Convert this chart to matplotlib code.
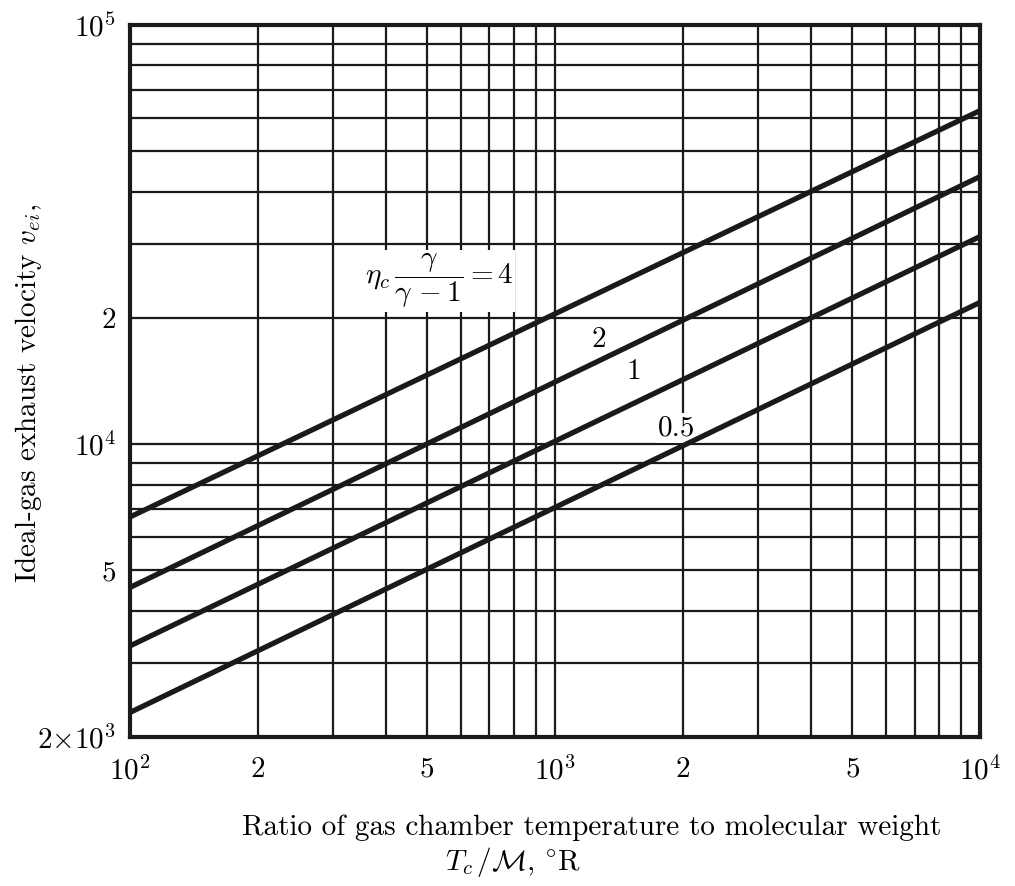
import matplotlib
matplotlib.use("Agg")
import matplotlib.pyplot as plt

plt.rcParams["font.family"] = ["cmr10", "DejaVu Serif"]
plt.rcParams["mathtext.fontset"] = "cm"
plt.rcParams["axes.formatter.use_mathtext"] = True

# T_c / M range (deg R) and ideal-gas exhaust velocity (ft/s) at each end
x_ends = [1e2, 1e4]
curves = {
    "4": [6700, 62500],
    "2": [4550, 43500],
    "1": [3300, 31300],
    "0.5": [2290, 21800],
}

# grid lines on the log paper
x_grid = [100, 200, 300, 400, 500, 600, 700, 800, 900,
          1000, 2000, 3000, 4000, 5000, 6000, 7000, 8000, 9000, 10000]
x_labels = {100: r"$10^2$", 200: "2", 500: "5", 1000: r"$10^3$",
            2000: "2", 5000: "5", 10000: r"$10^4$"}
y_grid = [2000, 3000, 4000, 5000, 6000, 7000, 8000, 9000,
          10000, 20000, 30000, 40000, 50000, 60000, 70000, 80000, 90000, 100000]
y_labels = {2000: r"$2{\times}10^3$", 5000: "5", 10000: r"$10^4$",
            20000: "2", 100000: r"$10^5$"}

FS = 21

fig = plt.figure(figsize=(10.15, 8.86), dpi=100)
ax = fig.add_axes([0.128, 0.168, 0.838, 0.804])
ax.set_xscale("log")
ax.set_yscale("log")
ax.set_xlim(1e2, 1e4)
ax.set_ylim(2e3, 1e5)

ax.set_xticks(x_grid)
ax.set_xticklabels([x_labels.get(v, "") for v in x_grid])
ax.set_yticks(y_grid)
ax.set_yticklabels([y_labels.get(v, "") for v in y_grid])
ax.minorticks_off()
ax.tick_params(length=0, labelsize=FS)
ax.tick_params(axis="x", pad=14)
ax.tick_params(axis="y", pad=10)
ax.grid(True, color="#1a1a1a", linewidth=1.6)
ax.set_axisbelow(True)
for s in ax.spines.values():
    s.set_linewidth(3.0)
    s.set_color("#1a1a1a")

for name, ys in curves.items():
    ax.plot(x_ends, ys, color="#1a1a1a", linewidth=3.8, solid_capstyle="butt", zorder=3)

# curve labels sit on white patches that break the grid but not the curves
box = dict(facecolor="white", edgecolor="none", pad=1.0)
ax.text(534, 24500, r"$\eta_c\,\dfrac{\gamma}{\gamma\,-1}=4$", fontsize=FS,
        ha="center", va="center", bbox=box, zorder=2.5)
ax.text(1268, 17700, "2", fontsize=FS, ha="center", va="center", bbox=box, zorder=2.5)
ax.text(1532, 14860, "1", fontsize=FS, ha="center", va="center", bbox=box, zorder=2.5)
ax.text(1934, 10920, "0.5", fontsize=FS, ha="center", va="center", bbox=box, zorder=2.5)

fig.text(0.028, 0.556, r"Ideal-gas exhaust velocity $v_{ei}$,", fontsize=FS,
         rotation=90, ha="center", va="center")
fig.text(0.583, 0.066, "Ratio of gas chamber temperature to molecular weight",
         fontsize=FS, ha="center", va="center")
fig.text(0.505, 0.027, r"$T_c\,/\mathcal{M}$, $^{\circ}$R", fontsize=FS,
         ha="center", va="center")

fig.savefig("out.png", dpi=100)
